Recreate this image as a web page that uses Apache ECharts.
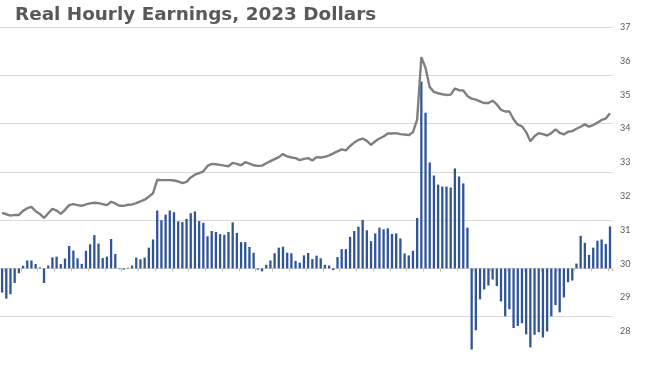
<!DOCTYPE html>
<html>
<head>
<meta charset="utf-8">
<script src="https://cdn.jsdelivr.net/npm/echarts@6/dist/echarts.min.js"></script>
<style>
html,body{margin:0;padding:0;background:#fff;}
#c{width:650px;height:365px;}
</style>
</head>
<body>
<div id="c"></div>
<script>
// Monthly categories, Dec 2011 .. Jan 2024
const startYear = 2011, startMonth = 12, monthCount = 146;
const months = [];
for (let k = 0; k < monthCount; k++) {
  const m0 = (startMonth - 1 + k);
  months.push((startYear + Math.floor(m0 / 12)) + '-' + String(m0 % 12 + 1).padStart(2, '0'));
}

// Real hourly earnings, 2023 dollars (right axis)
const realEarnings = [
  31.50, 31.46, 31.42, 31.44, 31.44, 31.56, 31.64, 31.68, 31.55, 31.47,
  31.35, 31.49, 31.62, 31.57, 31.47, 31.59, 31.73, 31.76, 31.73, 31.71,
  31.75, 31.78, 31.80, 31.79, 31.76, 31.73, 31.83, 31.78, 31.71, 31.71,
  31.74, 31.75, 31.79, 31.84, 31.89, 31.98, 32.08, 32.48, 32.47, 32.47,
  32.47, 32.46, 32.43, 32.38, 32.42, 32.55, 32.63, 32.68, 32.73, 32.89,
  32.95, 32.94, 32.92, 32.90, 32.88, 32.98, 32.95, 32.91, 33.00, 32.96,
  32.91, 32.89, 32.90, 32.97, 33.03, 33.09, 33.15, 33.24, 33.17, 33.14,
  33.12, 33.06, 33.10, 33.12, 33.05, 33.15, 33.14, 33.16, 33.20, 33.26,
  33.32, 33.38, 33.35, 33.48, 33.58, 33.66, 33.70, 33.63, 33.51, 33.62,
  33.70, 33.76, 33.85, 33.85, 33.86, 33.83, 33.82, 33.80, 33.89, 34.26,
  36.11, 35.79, 35.22, 35.08, 35.04, 35.01, 34.99, 35.00, 35.18, 35.13,
  35.12, 34.96, 34.88, 34.85, 34.80, 34.75, 34.75, 34.82, 34.71, 34.55,
  34.50, 34.50, 34.27, 34.11, 34.06, 33.89, 33.62, 33.77, 33.86, 33.83,
  33.79, 33.86, 33.97, 33.87, 33.82, 33.90, 33.92, 33.99, 34.05, 34.12,
  34.05, 34.10, 34.17, 34.25, 34.29, 34.45
];

// Year-over-year change, % (hidden left axis)
const yoyChange = [
  -1.0, -1.25, -1.07, -0.6, -0.2, 0.11, 0.33, 0.33, 0.18, 0.04,
  -0.6, 0.12, 0.46, 0.49, 0.18, 0.41, 0.93, 0.74, 0.42, 0.19,
  0.73, 1.0, 1.38, 1.03, 0.43, 0.49, 1.22, 0.6, -0.03, -0.05,
  0.03, 0.12, 0.45, 0.38, 0.45, 0.86, 1.2, 2.4, 2.0, 2.23,
  2.4, 2.33, 1.95, 1.92, 2.05, 2.29, 2.36, 1.96, 1.89, 1.33,
  1.55, 1.51, 1.42, 1.39, 1.51, 1.91, 1.47, 1.09, 1.09, 0.89,
  0.65, -0.05, -0.12, 0.15, 0.33, 0.63, 0.86, 0.9, 0.65, 0.63,
  0.31, 0.24, 0.54, 0.64, 0.39, 0.53, 0.42, 0.15, 0.12, -0.07,
  0.47, 0.8, 0.8, 1.31, 1.55, 1.73, 2.01, 1.58, 1.13, 1.45,
  1.69, 1.62, 1.66, 1.43, 1.45, 1.24, 0.62, 0.54, 0.73, 2.09,
  7.74, 6.45, 4.39, 3.85, 3.47, 3.39, 3.39, 3.35, 4.14, 3.81,
  3.52, 1.69, -3.36, -2.56, -1.28, -0.87, -0.71, -0.46, -0.73, -1.37,
  -1.98, -1.69, -2.47, -2.38, -2.27, -2.73, -3.27, -2.75, -2.64, -2.86,
  -2.61, -1.98, -1.52, -1.82, -1.2, -0.57, -0.5, 0.2, 1.35, 1.06,
  0.56, 0.86, 1.15, 1.2, 1.01, 1.74
];

const rightTicks = { min: 27, max: 37, interval: 1 };
const leftTicks = { min: -4, max: 10, interval: 2 };
const titleText = 'Real Hourly Earnings, 2023 Dollars';

const chart = echarts.init(document.getElementById('c'), null, { renderer: 'canvas' });
chart.setOption({
  animation: false,
  backgroundColor: '#ffffff',
  title: {
    text: titleText,
    left: 10,
    top: 1,
    textStyle: { fontFamily: 'DejaVu Sans', fontWeight: 'bold', fontSize: 18.4, color: '#595959' }
  },
  grid: { left: -1.4, top: 27, width: 613.5, height: 343, containLabel: false },
  xAxis: {
    type: 'category',
    data: months,
    boundaryGap: true,
    axisLine: { show: true, onZero: true, onZeroAxisIndex: 0, lineStyle: { color: '#d9d9d9', width: 1 } },
    axisTick: { show: true, length: 3, interval: (i) => i % 4 === 1, lineStyle: { color: '#bfbfbf' } },
    axisLabel: { show: false },
    splitLine: { show: false }
  },
  yAxis: [
    {
      type: 'value',
      min: leftTicks.min, max: leftTicks.max, interval: leftTicks.interval,
      position: 'left',
      axisLine: { show: false }, axisTick: { show: false }, axisLabel: { show: false },
      splitLine: { show: true, lineStyle: { color: '#d9d9d9', width: 1 } }
    },
    {
      type: 'value',
      min: rightTicks.min, max: rightTicks.max, interval: rightTicks.interval,
      position: 'right',
      axisLine: { show: false }, axisTick: { show: false },
      axisLabel: { show: true, showMinLabel: false, margin: 8, color: '#595959', fontSize: 9, fontFamily: 'Lato' },
      splitLine: { show: false }
    }
  ],
  series: [
    {
      type: 'bar', name: 'YoY change', yAxisIndex: 0, data: yoyChange,
      barWidth: 2.3, itemStyle: { color: '#2f5597' }, z: 2
    },
    {
      type: 'line', name: 'Real hourly earnings', yAxisIndex: 1, data: realEarnings,
      showSymbol: false, symbol: 'none', lineStyle: { color: '#7f7f7f', width: 2.4 }, z: 3
    }
  ]
});
</script>
</body>
</html>
